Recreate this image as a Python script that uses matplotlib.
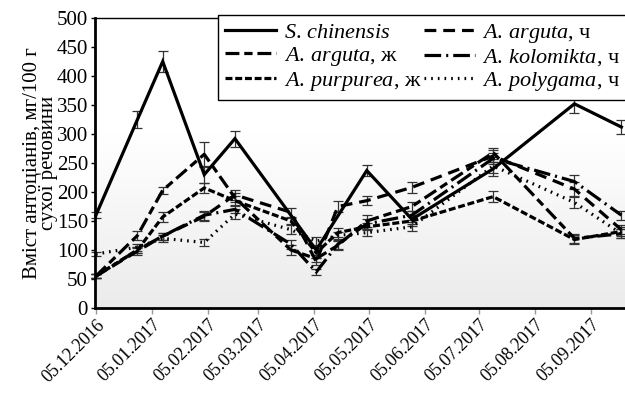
import matplotlib
matplotlib.use("Agg")
import matplotlib.pyplot as plt
import matplotlib.transforms as mtrans
import numpy as np
import datetime as dt

plt.rcParams['font.family'] = ['Liberation Serif', 'DejaVu Serif']
plt.rcParams['mathtext.fontset'] = 'custom'
plt.rcParams['mathtext.rm'] = 'Liberation Serif'
plt.rcParams['mathtext.it'] = 'Liberation Serif:italic'
plt.rcParams['lines.scale_dashes'] = False

# ---- data ----
dates_all = ['2016-12-05', '2016-12-28', '2017-01-11', '2017-02-03', '2017-02-20',
             '2017-03-23', '2017-04-06', '2017-04-18', '2017-05-04', '2017-05-29',
             '2017-07-13', '2017-08-27', '2017-09-22']
dates_sch = ['2016-12-05', '2016-12-28', '2017-01-11', '2017-02-03', '2017-02-20',
             '2017-04-06', '2017-05-04', '2017-05-29', '2017-07-13', '2017-08-27',
             '2017-09-22']

s_chinensis = [160, 325, 425, 230, 292, 100, 237, 153, 240, 352, 312]
s_chinensis_err = [5, 15, 18, 15, 14, 8, 10, 8, 12, 15, 12]

arguta_f = [55, 125, 203, 265, 190, 100, 85, 108, 150, 175, 268, 120, 128]
arguta_f_err = [4, 8, 6, 22, 8, 8, 6, 8, 10, 8, 8, 8, 8]
arguta_m = [55, 98, 124, 158, 195, 165, 80, 175, 185, 208, 262, 205, 135]
arguta_m_err = [4, 6, 6, 8, 8, 8, 6, 10, 8, 9, 10, 12, 8]
purpurea_f = [55, 100, 157, 207, 185, 150, 95, 130, 140, 150, 192, 118, 132]
purpurea_f_err = [4, 6, 8, 8, 8, 6, 8, 8, 6, 8, 10, 8, 8]
kolomikta_m = [55, 100, 124, 160, 170, 110, 62, 110, 145, 160, 258, 218, 160]
kolomikta_m_err = [4, 6, 6, 8, 6, 8, 5, 8, 8, 8, 10, 12, 8]
polygama_m = [93, 105, 120, 113, 162, 135, 115, 125, 130, 140, 245, 182, 128]
polygama_m_err = [4, 6, 6, 6, 8, 8, 8, 6, 6, 8, 12, 10, 8]

yticks = list(range(0, 501, 50))
xtick_dates = ['2016-12-05', '2017-01-05', '2017-02-05', '2017-03-05', '2017-04-05',
               '2017-05-05', '2017-06-05', '2017-07-05', '2017-08-05', '2017-09-05']

def to_dt(lst):
    return [dt.datetime.strptime(s, '%Y-%m-%d') for s in lst]

# ---- figure ----
fig = plt.figure(figsize=(6.25, 3.96), dpi=100)
ax = fig.add_axes([95/625, 1-308/396, 530/625, 290/396])

# gradient background
grad = np.linspace(0, 1, 256).reshape(-1, 1)
vals = np.clip(grad / 0.6, 0, 1)
cmap = matplotlib.colors.LinearSegmentedColormap.from_list('g', ['#ebebeb', '#ffffff'])
ax.imshow(vals, aspect='auto', cmap=cmap, extent=[0, 1, 0, 1], transform=ax.transAxes,
          origin='lower', zorder=0, vmin=0, vmax=1)

series = [
    ('$\\mathit{S.\\,chinensis}$', dates_sch, s_chinensis, s_chinensis_err, None),
    ('$\\mathit{A.\\,arguta}$, ж', dates_all, arguta_f, arguta_f_err, (0, (10, 3.5, 6, 3.5))),
    ('$\\mathit{A.\\,purpurea}$, ж', dates_all, purpurea_f, purpurea_f_err, (0, (5, 2))),
    ('$\\mathit{A.\\,arguta}$, ч', dates_all, arguta_m, arguta_m_err, (0, (8.5, 5))),
    ('$\\mathit{A.\\,kolomikta}$, ч', dates_all, kolomikta_m, kolomikta_m_err, (0, (12, 3.6, 1.5, 3.6))),
    ('$\\mathit{A.\\,polygama}$, ч', dates_all, polygama_m, polygama_m_err, (0, (1.2, 3.6))),
]

handles = []
for label, d, v, e, dash in series:
    x = to_dt(d)
    ax.errorbar(x, v, yerr=e, fmt='none', ecolor='#333333', elinewidth=0.9,
                capsize=3.5, capthick=0.9, zorder=2, clip_on=False)
    if dash is None:
        ln, = ax.plot(x, v, color='black', lw=2.3, zorder=3, label=label,
                      solid_joinstyle='miter', clip_on=False)
    else:
        ln, = ax.plot(x, v, color='black', lw=2.3, zorder=3, label=label,
                      linestyle=dash, clip_on=False)
    handles.append(ln)

ax.set_ylim(0, 500)
ax.set_xlim(dt.datetime(2016, 12, 4, 12), dt.datetime(2017, 9, 24))
ax.set_yticks(yticks)
ax.set_yticklabels([str(t) for t in yticks], fontsize=15)
xt = to_dt(xtick_dates)
ax.set_xticks(xt)
ax.set_xticklabels([t.strftime('%d.%m.%Y') for t in xt], fontsize=13,
                   rotation=45, ha='right', rotation_mode='anchor')
offset = mtrans.ScaledTranslation(15/100, -3/100, fig.dpi_scale_trans)
for lab in ax.get_xticklabels():
    lab.set_transform(lab.get_transform() + offset)

ax.tick_params(axis='y', length=3, width=1, direction='out', pad=2)
ax.tick_params(axis='x', length=4, width=1, direction='out', color='#999999', pad=2)

for s in ['left', 'bottom']:
    ax.spines[s].set_linewidth(2)
ax.spines['top'].set_linewidth(1)
ax.spines['right'].set_visible(False)

ax.set_ylabel('Вміст антоціанів, мг/100 г\nсухої речовини', fontsize=15,
              linespacing=0.8, labelpad=-1)

leg = ax.legend(handles=handles, ncol=2, loc='upper left',
                bbox_to_anchor=((218-95)/530, 1.01), borderaxespad=0,
                fontsize=16, frameon=True, fancybox=False, edgecolor='black',
                handlelength=2.3, handletextpad=0.35, columnspacing=0.1,
                labelspacing=0.1, borderpad=0.3, framealpha=1)
leg.get_frame().set_linewidth(1)
leg.set_zorder(5)

fig.savefig('out.png', dpi=100)
